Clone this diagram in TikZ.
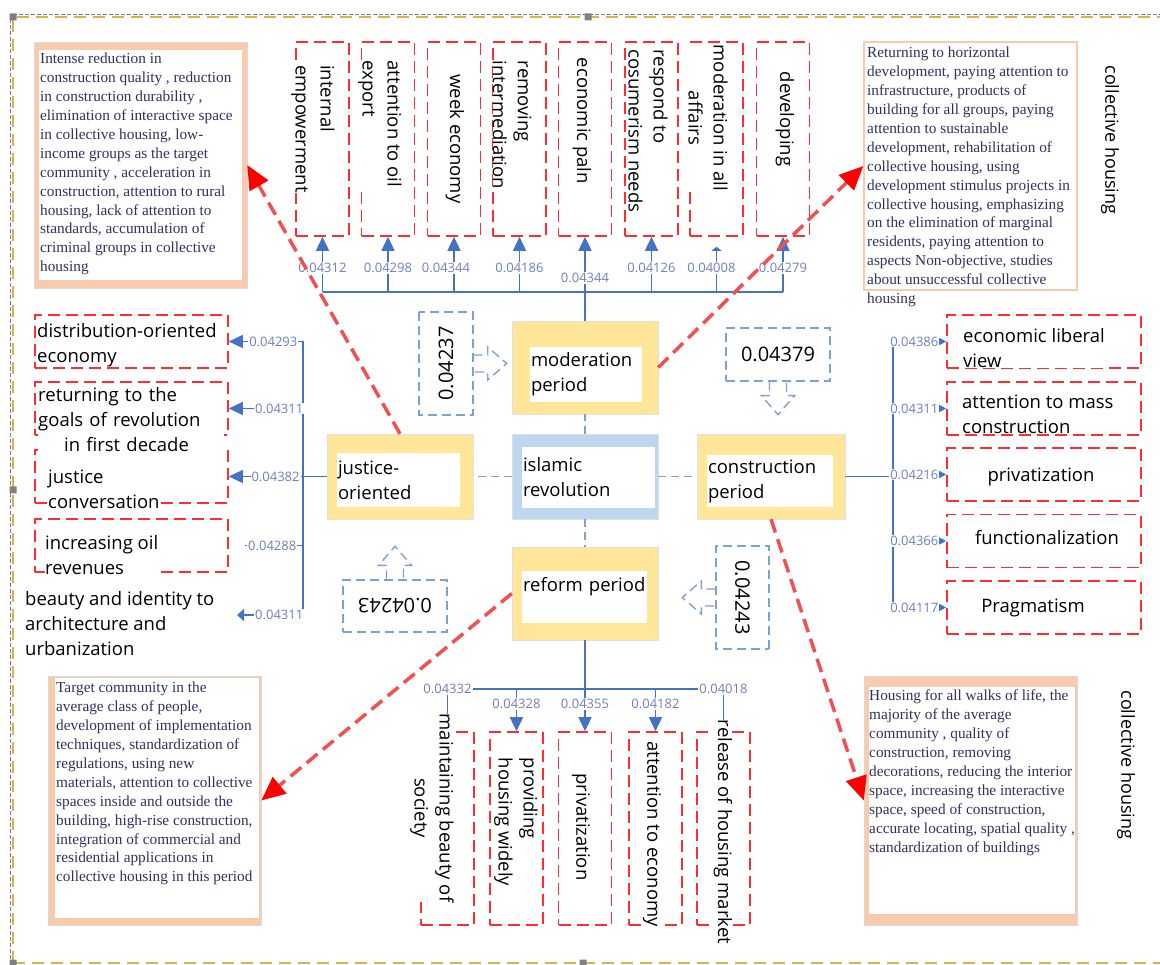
\documentclass[tikz,border=0pt]{standalone}
\usepackage{fontspec}
\setmainfont{Open Sans}
\newfontfamily\notefont{Liberation Serif}
\usepackage{tikz}
\usetikzlibrary{arrows.meta}
\definecolor{framegold}{RGB}{214,180,76}
\definecolor{boxred}{RGB}{255,45,45}
\definecolor{hintred}{RGB}{242,80,80}
\definecolor{wireblue}{RGB}{68,114,196}
\definecolor{numblue}{RGB}{112,126,192}
\definecolor{calblue}{RGB}{125,162,206}
\definecolor{periodgold}{RGB}{255,230,153}
\definecolor{revblue}{RGB}{189,215,238}
\definecolor{peach}{RGB}{248,203,173}
\definecolor{notetext}{RGB}{48,50,92}
\newcommand{\txtsize}{\fontsize{18.5}{25}\selectfont}
\newcommand{\numsize}{\fontsize{13}{15}\selectfont}
\newcommand{\notesize}{\notefont\fontsize{15.3}{18.9}\selectfont}
\newcommand{\calsize}{\fontsize{20}{24}\selectfont}

\begin{document}
\begin{tikzpicture}[x=1pt,y=-1pt,>={Triangle[length=14pt,width=13pt]}]
  \tikzstyle{pageframe}=[draw=framegold,line width=2pt,dash pattern=on 12pt off 7pt]
  \tikzstyle{redbox}=[draw=boxred,line width=1.6pt,dash pattern=on 12pt off 6pt,inner sep=0pt]
  \tikzstyle{colbox}=[redbox,minimum width=53pt,minimum height=194pt]
  \tikzstyle{rowbox}=[redbox,minimum width=193pt,minimum height=53pt]
  \tikzstyle{txt}=[font=\txtsize,align=left,inner sep=0pt,fill=white]
  \tikzstyle{vtxt}=[txt,rotate=-90]
  \tikzstyle{num}=[font=\numsize,text=numblue,fill=white,inner sep=1pt]
  \tikzstyle{wire}=[color=wireblue,line width=1.5pt]
  \tikzstyle{period}=[fill=periodgold,draw=black!12,minimum width=146pt,minimum height=93pt]
  \tikzstyle{whitebox}=[fill=white,font=\txtsize,align=left,inner sep=1pt]
  \tikzstyle{calbox}=[draw=calblue,line width=1.4pt,dash pattern=on 9pt off 5pt,font=\calsize,inner sep=0pt]
  \tikzstyle{links}=[color=calblue,line width=1.3pt,dash pattern=on 8pt off 5pt]
  \tikzstyle{paper}=[fill=peach,draw=black!15,inner sep=0pt]
  \tikzstyle{note}=[font=\notesize,text=notetext,align=left,inner sep=0pt]
  \tikzstyle{hint}=[draw=hintred,line width=3.5pt,dash pattern=on 14pt off 7pt,
                    -{Triangle[length=24pt,width=21pt,color=red]}]
  \useasboundingbox (0,0) rectangle (1160,965);

  \draw[gray,line width=.6pt,dash pattern=on 4pt off 2pt] (10,965) -- (10,14) -- (1160,14);
  \draw[pageframe] (13,963) -- (13,17) -- (1160,17);
  \draw[pageframe] (13,963) -- (1160,963);
  \fill[gray] (9.5,13.5) rectangle +(7,7) (584.5,13.5) rectangle +(7,7)
              (9.5,486.5) rectangle +(7,7) (9.5,959.5) rectangle +(7,7) (579.5,959.5) rectangle +(7,7);

  \node[period] (mod) at (585,367.5) {};
  \node[whitebox,text width=110pt,minimum height=55pt] (modin) at (586,374.5) {moderation\\period};
  \node[period,fill=revblue,minimum height=85pt] (rev) at (585,476.5) {};
  \node[whitebox,text width=131pt,minimum height=61pt] (revin) at (588.5,477.5) {islamic\\revolution};
  \node[period] (ref) at (585,593.5) {};
  \node[whitebox,text width=123pt,minimum height=52pt] (refin) at (584.5,597) {reform period\\\mbox{}};
  \node[period,minimum width=148pt,minimum height=85pt] (con) at (771,476.5) {};
  \node[whitebox,text width=124pt,minimum height=52pt] (conin) at (770,481) {construction\\period};
  \node[period,minimum height=85pt] (jus) at (400,476.5) {};
  \node[whitebox,text width=121pt,minimum height=54pt] (jusin) at (398.5,480) {justice-\\oriented};
  \path[links] (rev) edge (mod) edge (ref) edge (jus) edge (con);

  \node[colbox] (t1) at (322.5,139) {};
  \node[colbox] (t2) at (388,139) {};
  \node[colbox] (t3) at (454,139) {};
  \node[colbox] (t4) at (519.5,139) {};
  \node[colbox] (t5) at (585,139) {};
  \node[colbox] (t6) at (651.5,139) {};
  \node[colbox] (t7) at (716.5,139) {};
  \node[colbox] (t8) at (783,139) {};
  \coordinate (tbar) at (0,292);
  \draw[wire] (t1 |- tbar) -- (t8 |- tbar);
  \path[wire] (t1 |- tbar) edge[->] node[num,pos=.43] {0.04312} (t1.south)
              (t2 |- tbar) edge[->] node[num,pos=.43] {0.04298} (t2.south)
              (t3 |- tbar) edge[->] node[num,pos=.43,xshift=-8pt] {0.04344} (t3.south)
              (t4 |- tbar) edge[->] node[num,pos=.43] {0.04186} (t4.south)
              (mod.north) edge[->] node[num,pos=.51] {0.04344} (t5.south)
              (t6 |- tbar) edge[->] node[num,pos=.43] {0.04126} (t6.south)
              (t7 |- tbar) edge[-{Triangle[length=4pt,width=10pt]},shorten >=10pt]
                           node[num,pos=.43,xshift=-5pt] {0.04008} (t7.south)
              (t8 |- tbar) edge[->] node[num,pos=.43] {0.04279} (t8.south);
  \node[vtxt] (tt1) at (313,129) {internal\\empowerment};
  \node[vtxt] (tt2) at (380,124) {attention to oil\\export};
  \node[vtxt] (tt3) at (455,139) {week economy};
  \node[vtxt] (tt4) at (512,125) {removing\\intermediation};
  \node[vtxt] (tt5) at (582,121) {economic paln};
  \node[vtxt] (tt6) at (648,131) {respond to\\cosumerism needs};
  \node[vtxt,align=center] (tt7) at (708,118) {moderation in all\\affairs};
  \node[vtxt] (tt8) at (785,119) {developing};

  \node[rowbox] (l1) at (131.5,341.5) {};
  \node[rowbox] (l2) at (131.5,408.5) {};
  \node[rowbox] (l3) at (131.5,476.5) {};
  \node[rowbox] (l4) at (131.5,545.5) {};
  \coordinate (lbus) at (303,0);
  \coordinate (l4end) at (245,545.5);
  \coordinate (l5tip) at (237,615);
  \draw[wire] (lbus |- l1) -- (lbus |- l5tip);
  \draw[wire] (jus.west) -- (jus.west -| lbus);
  \path[wire] (lbus |- l1) edge[->] node[num,pos=.4] {0.04293} (l1.east)
              (lbus |- l2) edge[->] node[num,pos=.32] {0.04311} (l2.east)
              (lbus |- l3) edge[->] node[num,pos=.37] {0.04382} (l3.east)
              (lbus |- l4) edge node[num,pos=.53] {0.04288} (l4end)
              (lbus |- l5tip) edge[-{Triangle[length=7pt,width=12pt]}]
                              node[num,pos=.36] {0.04311} (l5tip);
  \node[txt,anchor=west] (lt1) at (37,345.5) {distribution-oriented\\economy};
  \node[txt,anchor=west,text width=186pt] (lt2) at (38,419.5)
       {returning to the\\goals of revolution\\\hspace*{26pt}in first decade};
  \node[txt,anchor=west] (lt3) at (48,489) {justice\\conversation};
  \node[txt,anchor=west] (lt4) at (45,555) {increasing oil\\revenues};
  \node[txt,anchor=west] (l5) at (25,624) {beauty and identity to\\architecture and\\urbanization};

  \node[rowbox,minimum width=194pt] (r1) at (1044,341.5) {};
  \node[rowbox,minimum width=194pt] (r2) at (1044,408.5) {};
  \node[rowbox,minimum width=194pt] (r3) at (1044,474.5) {};
  \node[rowbox,minimum width=194pt] (r4) at (1044,541) {};
  \node[rowbox,minimum width=194pt] (r5) at (1044,607.5) {};
  \coordinate (rbus) at (893,0);
  \draw[wire] (rbus |- r1) -- (rbus |- r5);
  \draw[wire] (con.east) -- (con.east -| rbus);
  \path[wire] (rbus |- r1) edge[-{Triangle[length=10pt,width=10pt]}] node[num,pos=.4] {0.04386} (r1.west)
              (rbus |- r2) edge[-{Triangle[length=10pt,width=10pt]}] node[num,pos=.4] {0.04311} (r2.west)
              (rbus |- r3) edge[-{Triangle[length=10pt,width=10pt]}] node[num,pos=.4] {0.04216} (r3.west)
              (rbus |- r4) edge[-{Triangle[length=10pt,width=10pt]}] node[num,pos=.4] {0.04366} (r4.west)
              (rbus |- r5) edge[-{Triangle[length=10pt,width=10pt]}] node[num,pos=.4] {0.04117} (r5.west);
  \node[txt,anchor=west] (rt1) at (963,348) {economic liberal\\view};
  \node[txt,anchor=west] (rt2) at (962,414.5) {attention to mass\\construction};
  \node[txt] (rt3) at (1041,477) {privatization};
  \node[txt] (rt4) at (1047,538) {functionalization};
  \node[txt] (rt5) at (1033,608) {Pragmatism};

  \node[colbox,minimum height=193pt] (b1) at (447.5,828.5) {};
  \node[colbox,minimum height=193pt] (b2) at (516.5,828.5) {};
  \node[colbox,minimum height=193pt] (b3) at (585,828.5) {};
  \node[colbox,minimum height=193pt] (b4) at (655.5,828.5) {};
  \node[colbox,minimum height=193pt] (b5) at (723.5,828.5) {};
  \coordinate (bbar) at (0,689);
  \draw[wire] (b1 |- bbar) -- (b5 |- bbar);
  \path[wire] (ref.south) edge[->] node[num,pos=.7] {0.04355} (b3.north)
              (b1 |- bbar) edge node[num,pos=0] {0.04332} (b1.north)
              (b2 |- bbar) edge[->] node[num,pos=.35] {0.04328} (b2.north)
              (b4 |- bbar) edge[->] node[num,pos=.35] {0.04182} (b4.north)
              (b5 |- bbar) edge node[num,pos=0] {0.04018} (b5.north);
  \node[vtxt,align=center] (bt1) at (432,808) {maintaining beauty of\\society};
  \node[vtxt] (bt2) at (516,822) {providing\\housing widely};
  \node[vtxt] (bt3) at (581,827) {privatization};
  \node[vtxt] (bt4) at (652,834) {attention to economy};
  \node[vtxt] (bt5) at (723,832) {release of housing market};

  \node[calbox,rotate=90,minimum width=103pt,minimum height=54pt] (c1) at (446,363.5) {0.04237};
  \draw[calbox] (c1.south) ++(0,-8.5) -- ++(14,0) -- ++(0,-8) -- ++(19,16.5)
                -- ++(-19,16.5) -- ++(0,-8) -- ++(-14,0);
  \node[calbox,minimum width=104pt,minimum height=53pt] (c2) at (778,354.5) {0.04379};
  \draw[calbox] (c2.south) ++(-8.5,0) -- ++(0,14) -- ++(-8,0) -- ++(16.5,19)
                -- ++(16.5,-19) -- ++(-8,0) -- ++(0,-14);
  \node[calbox,rotate=180,minimum width=104pt,minimum height=52pt] (c3) at (395,606) {0.04243};
  \draw[calbox] (c3.south) ++(-8.5,0) -- ++(0,-14) -- ++(-8,0) -- ++(16.5,-19)
                -- ++(16.5,19) -- ++(-8,0) -- ++(0,14);
  \node[calbox,rotate=-90,minimum width=103pt,minimum height=53pt] (c4) at (742.5,597.5) {0.04243};
  \draw[calbox] (c4.south) ++(0,-8.5) -- ++(-14,0) -- ++(0,-8) -- ++(-19,16.5)
                -- ++(19,16.5) -- ++(0,-8) -- ++(14,0);

  \node[paper,minimum width=213pt,minimum height=246pt] (n1) at (140.5,165) {};
  \node[fill=white,minimum width=203pt,minimum height=230pt,inner sep=0pt] (n1w) at (140.5,165) {};
  \node[note,anchor=north west] (n1t) at (40,53) {Intense reduction in\\construction quality , reduction\\in construction durability ,\\elimination of interactive space\\in collective housing, low-\\income groups as the target\\community , acceleration in\\construction, attention to rural\\housing, lack of attention to\\standards, accumulation of\\criminal groups in collective\\housing};
  \node[fill=white,draw=peach,line width=1.2pt,minimum width=213pt,minimum height=248pt,inner sep=0pt] (n2) at (970.5,166) {};
  \node[note,anchor=north west] (n2t) at (867,47) {Returning to horizontal\\development, paying attention to\\infrastructure, products of\\building for all groups, paying\\attention to sustainable\\development, rehabilitation of\\collective housing, using\\development stimulus projects in\\collective housing, emphasizing\\on the elimination of marginal\\residents, paying attention to\\aspects Non-objective, studies\\about unsuccessful collective\\housing};
  \node[paper,minimum width=213pt,minimum height=249pt] (n3) at (154.5,800.5) {};
  \node[fill=white,minimum width=204pt,minimum height=240pt,inner sep=0pt] (n3w) at (157,798) {};
  \node[note,anchor=north west] (n3t) at (56,682) {Target community  in the\\average class of people,\\development of implementation\\techniques, standardization of\\regulations, using new\\materials, attention to collective\\spaces inside and outside the\\building, high-rise construction,\\integration of commercial and\\residential applications in\\collective housing in this period};
  \node[paper,minimum width=213pt,minimum height=249pt] (n4) at (970.5,800.5) {};
  \node[fill=white,minimum width=206pt,minimum height=227pt,inner sep=0pt] (n4w) at (972,800.5) {};
  \node[note,anchor=north west] (n4t) at (869,690) {Housing for all walks of life, the\\majority of the average\\community , quality of\\construction, removing\\decorations, reducing the interior\\space, increasing the interactive\\space, speed of construction,\\accurate locating, spatial quality ,\\standardization of buildings};
  \node[font=\fontsize{18}{20}\selectfont,rotate=-90,inner sep=0pt] (ch1) at (1110,140) {collective housing};
  \node[font=\fontsize{18}{20}\selectfont,rotate=-90,inner sep=0pt] (ch2) at (1126,765) {collective housing};

  \draw[hint] (jus.north) -- (n1.east);
  \draw[hint] (mod.east) -- (n2.west);
  \draw[hint] (ref.west) -- (n3.east);
  \draw[hint] (con.south) -- (n4.west);
\end{tikzpicture}
\end{document}
